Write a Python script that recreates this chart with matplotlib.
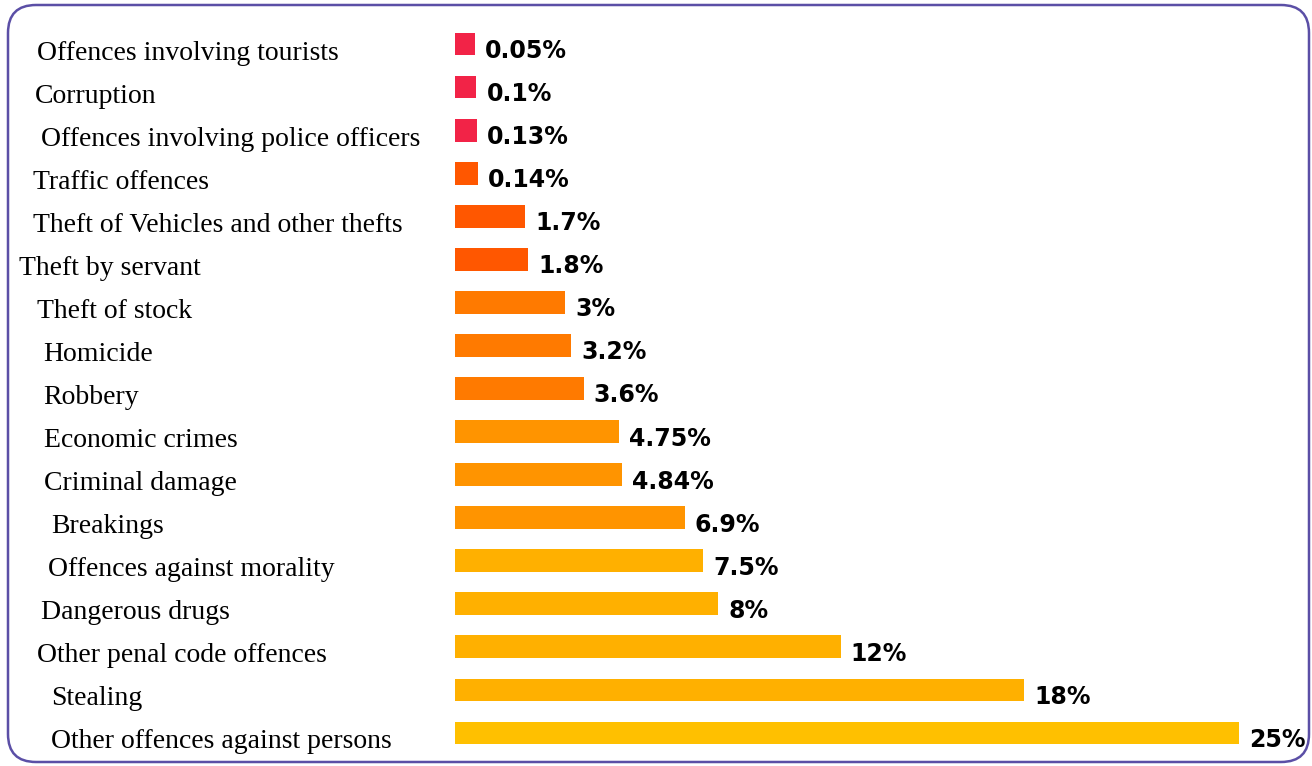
import numpy as np
import matplotlib
matplotlib.use("Agg")
import matplotlib.pyplot as plt
from matplotlib.patches import FancyBboxPatch
from matplotlib.transforms import ScaledTranslation

# Offence categories, top to bottom, with their share of reported crime (%)
categories = [
    "Offences involving tourists",
    "Corruption",
    "Offences involving police officers",
    "Traffic offences",
    "Theft of Vehicles and other thefts",
    "Theft by servant",
    "Theft of stock",
    "Homicide",
    "Robbery",
    "Economic crimes",
    "Criminal damage",
    "Breakings",
    "Offences against morality",
    "Dangerous drugs",
    "Other penal code offences",
    "Stealing",
    "Other offences against persons",
]
shares = [0.05, 0.1, 0.13, 0.14, 1.7, 1.8, 3, 3.2, 3.6, 4.75, 4.84,
          6.9, 7.5, 8, 12, 18, 25]
value_labels = ["0.05%", "0.1%", "0.13%", "0.14%", "1.7%", "1.8%", "3%",
                "3.2%", "3.6%", "4.75%", "4.84%", "6.9%", "7.5%", "8%",
                "12%", "18%", "25%"]

# Styling: bar colour per row and small left indents for the row names (px)
bar_colors = (["#F22347"] * 3 + ["#FF5700"] * 3 + ["#FF7A00"] * 3 +
              ["#FF9400"] * 3 + ["#FFB000"] * 4 + ["#FFC000"])
label_indent_px = [18, 16, 22, 14, 14, 0, 18, 24, 24, 25, 25, 32, 29, 22,
                   18, 32, 32]

# Axis scale: every non-zero bar gets a small minimum length so that the
# tiniest shares stay visible, the rest is linear.
MIN_LEN = 0.6


def forward(x):
    x = np.asarray(x, dtype=float)
    return np.where(x > 0, x + MIN_LEN, x)


def inverse(y):
    y = np.asarray(y, dtype=float)
    return np.where(y > MIN_LEN, y - MIN_LEN, np.where(y > 0, 0.0, y))


W, H, DPI = 1312, 766, 100
fig = plt.figure(figsize=(W / DPI, H / DPI), dpi=DPI)
fig.patch.set_facecolor("white")

ax_left, ax_right = 455 / W, 1300 / W
ax_bottom, ax_top = (H - 754.5) / H, (H - 22.5) / H
ax = fig.add_axes([ax_left, ax_bottom, ax_right - ax_left, ax_top - ax_bottom])
ax.set_xscale("function", functions=(forward, inverse))

y = np.arange(len(categories))
ax.barh(y, shares, height=0.53, color=bar_colors, edgecolor="none")
ax.set_xlim(0, 27.0)
ax.set_ylim(len(categories) - 0.5, -0.5)
ax.axis("off")

# Value labels just past the bar ends
val_offset = ScaledTranslation(10 / DPI, -7 / DPI, fig.dpi_scale_trans)
for yi, v, txt in zip(y, shares, value_labels):
    ax.text(v, yi, txt, transform=ax.transData + val_offset,
            ha="left", va="center", fontsize=17, fontweight="bold",
            family="DejaVu Sans", color="black")

# Row names on the left, in a serif face
blend = matplotlib.transforms.blended_transform_factory(fig.transFigure, ax.transData)
for yi, name, ind in zip(y, categories, label_indent_px):
    off = ScaledTranslation(ind / DPI, -9 / DPI, fig.dpi_scale_trans)
    ax.text(19 / W, yi, name, transform=blend + off, ha="left", va="center",
            fontsize=20, family="Liberation Serif", color="black")

# Rounded purple frame around the chart
frame = FancyBboxPatch((0.08, 0.04), 13.01, 7.57,
                       boxstyle="round,pad=0,rounding_size=0.28",
                       transform=fig.dpi_scale_trans, facecolor="none",
                       edgecolor="#5B4FA6", linewidth=1.8)
fig.patches.append(frame)

fig.savefig("out.png", dpi=DPI, facecolor="white")
